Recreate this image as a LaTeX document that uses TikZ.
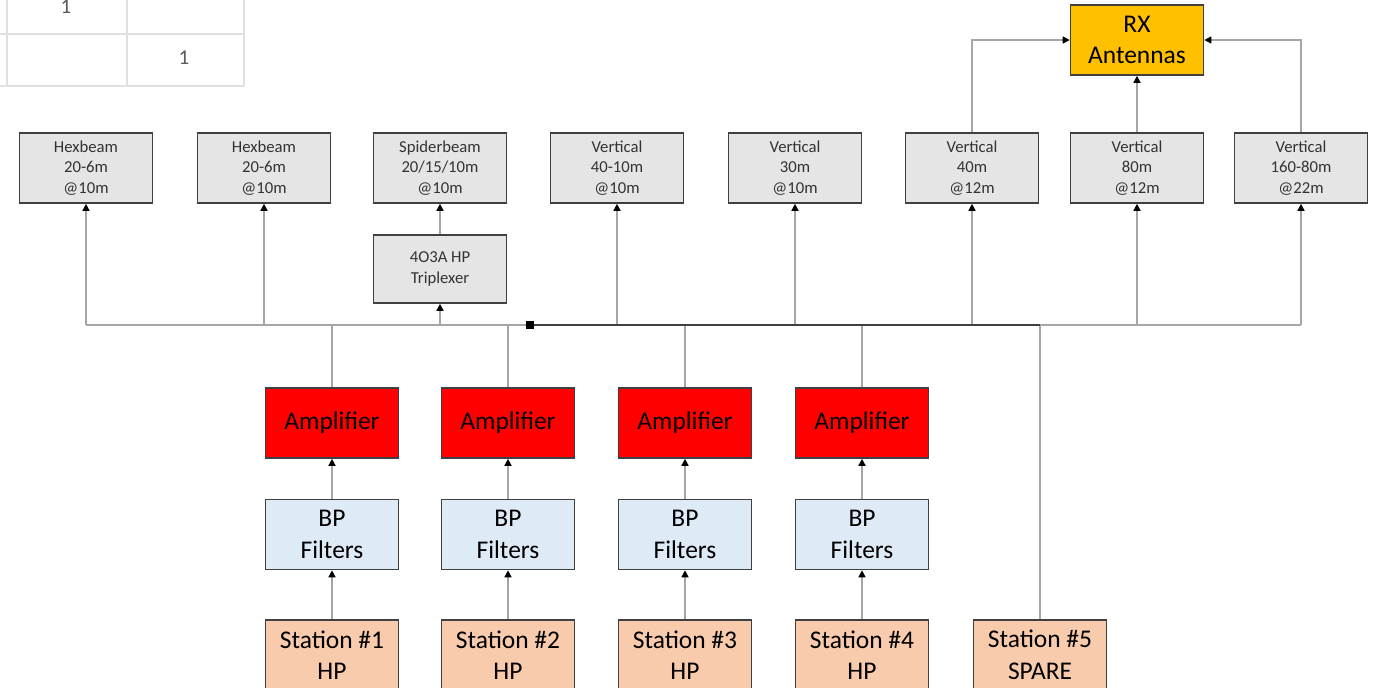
\documentclass[tikz,border=0pt]{standalone}
\usepackage{fontspec}
\setmainfont{Carlito}
\usetikzlibrary{arrows.meta}

\tikzset{
  box/.style={draw=black!75,line width=0.9pt,minimum width=2.66cm,minimum height=1.4cm,inner sep=0pt,align=center},
  ant/.style={box,fill=black!10,text=black!80,font=\fontsize{9.5}{11.6}\selectfont},
  big/.style={box,font=\fontsize{14.5}{18}\selectfont},
  wire/.style={draw=black!35,line width=0.8pt},
  tip/.style={-{Triangle[length=4pt,width=4pt,color=black]}},
  cell/.style={draw=black!12,line width=1pt}
}

\begin{document}
\begin{tikzpicture}[x=0.02cm,y=-0.02cm]
  \useasboundingbox (0,0) rectangle (1386,687);
  \clip (0,0) rectangle (1386,687);

  % spreadsheet cells
  \draw[cell] (0,34) -- (244,34) (0,86) -- (244,86);
  \foreach \x in {7,127,244} \draw[cell] (\x,0) -- (\x,86);
  \node[text=black!65,font=\fontsize{12}{14}\selectfont] (c1) at (66,7) {1};
  \node[text=black!65,font=\fontsize{12}{14}\selectfont] (c2) at (184,58) {1};

  % antennas
  \node[ant] (hex1) at (86,168) {Hexbeam\\20-6m\\@10m};
  \node[ant] (hex2) at (264,168) {Hexbeam\\20-6m\\@10m};
  \node[ant] (spider) at (440,168) {Spiderbeam\\20/15/10m\\@10m};
  \node[ant,minimum height=1.36cm] (trip) at (440,269) {4O3A HP\\Triplexer};
  \node[ant] (v4010) at (617,168) {Vertical\\40-10m\\@10m};
  \node[ant] (v30) at (795,168) {Vertical\\30m\\@10m};
  \node[ant] (v40) at (972,168) {Vertical\\40m\\@12m};
  \node[ant] (v80) at (1137,168) {Vertical\\80m\\@12m};
  \node[ant] (v160) at (1301,168) {Vertical\\160-80m\\@22m};
  \node[big,fill={rgb,255:red,255;green,192;blue,0}] (rx) at (1137,40) {RX\\Antennas};

  % bus
  \coordinate (busL) at (86,325);
  \coordinate (busR) at (1301,325);
  \coordinate (dot) at (530,325);
  \draw[wire] (busL) -- (busR);
  \foreach \a in {hex1,hex2,trip,v4010,v30,v40,v80,v160}
    \draw[wire,tip] (\a |- busL) -- (\a.south);
  \draw[wire,tip] (trip.north) -- (spider.south);
  \draw[wire,tip] (v40.north) |- (rx.west);
  \draw[wire,tip] (v80.north) -- (rx.south);
  \draw[wire,tip] (v160.north) |- (rx.east);

  % stations
  \foreach \i/\x in {1/332,2/508,3/685,4/862} {
    \node[big,fill=red] (amp\i) at (\x,423) {Amplifier};
    \node[big,fill={rgb,255:red,222;green,235;blue,247}] (bp\i) at (\x,534.5) {BP\\Filters};
    \node[big,fill={rgb,255:red,248;green,203;blue,173}] (st\i) at (\x,655) {Station \#\i\\HP};
    \draw[wire,tip] (st\i.north) -- (bp\i.south);
    \draw[wire,tip] (bp\i.north) -- (amp\i.south);
    \draw[wire] (amp\i.north) -- (amp\i |- busL);
  }
  \node[big,fill={rgb,255:red,248;green,203;blue,173}] (st5) at (1040,655) {Station \#5\\SPARE};
  \draw[wire] (st5.north) -- (st5 |- busL);
  \draw[black!75,line width=1.2pt] (dot) -- (st5 |- dot);
  \node[fill=black,inner sep=0pt,minimum size=4pt] (junction) at (dot) {};
\end{tikzpicture}
\end{document}
